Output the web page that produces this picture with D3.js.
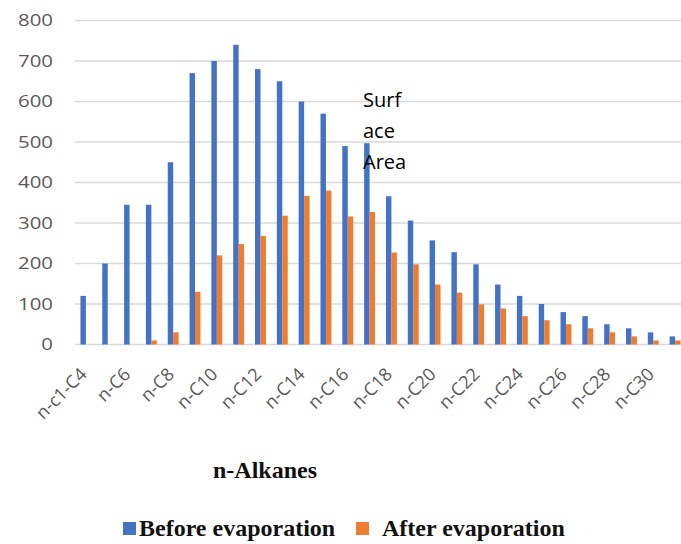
<!DOCTYPE html>
<html>
<head>
<meta charset="utf-8">
<script src="https://cdn.jsdelivr.net/npm/d3@7/dist/d3.min.js"></script>
<style>
  html, body { margin: 0; padding: 0; background: #ffffff; }
  svg { display: block; }
</style>
</head>
<body>
<script>
// n-alkane carbon fractions
const categories = ["n-c1-C4", "n-C5", "n-C6", "n-C7", "n-C8", "n-C9", "n-C10", "n-C11", "n-C12",
  "n-C13", "n-C14", "n-C15", "n-C16", "n-C17", "n-C18", "n-C19", "n-C20", "n-C21", "n-C22",
  "n-C23", "n-C24", "n-C25", "n-C26", "n-C27", "n-C28", "n-C29", "n-C30", "n-C31"];

// Series values
const beforeEvaporation = [120, 200, 345, 345, 450, 670, 700, 740, 680, 650, 600, 570, 490, 497,
  366, 306, 257, 228, 198, 148, 120, 100, 80, 70, 50, 40, 30, 20];
const afterEvaporation = [0, 0, 0, 10, 30, 130, 220, 248, 268, 318, 367, 380, 316, 327,
  227, 198, 148, 128, 99, 89, 70, 60, 50, 40, 30, 20, 10, 10];

const seriesNames = ["Before evaporation", "After evaporation"];
const yTicks = [0, 100, 200, 300, 400, 500, 600, 700, 800];
const annotationLines = ["Surf", "ace", "Area"];
const axisTitle = "n-Alkanes";

const colors = { "Before evaporation": "#4472C4", "After evaporation": "#ED7D31" };

const W = 681, H = 544;
const plot = { left: 75, right: 686, top: 20.5, bottom: 344.5 };

const svg = d3.select("body").append("svg")
  .attr("width", W).attr("height", H);

const rows = categories.map((c, i) => ({
  category: c,
  "Before evaporation": beforeEvaporation[i],
  "After evaporation": afterEvaporation[i]
}));

const x = d3.scaleBand()
  .domain(categories)
  .range([plot.left, plot.right])
  .paddingInner(0.5)
  .paddingOuter(0.25);

const xs = d3.scaleBand()
  .domain(seriesNames)
  .range([0, x.bandwidth()]);

const y = d3.scaleLinear()
  .domain([0, 800])
  .range([plot.bottom, plot.top]);

// Horizontal gridlines
svg.append("g")
  .selectAll("line")
  .data(yTicks)
  .join("line")
  .attr("x1", plot.left).attr("x2", plot.right)
  .attr("y1", d => y(d)).attr("y2", d => y(d))
  .attr("stroke", "#d9d9d9")
  .attr("stroke-width", 1.5);

// Y axis labels
const yAxis = svg.append("g")
  .attr("transform", `translate(${plot.left},0)`)
  .call(d3.axisLeft(y).tickValues(yTicks).tickSize(0).tickPadding(22));
yAxis.select(".domain").remove();
yAxis.selectAll("text")
  .attr("font-family", "'Open Sans', sans-serif")
  .attr("font-size", 17)
  .attr("fill", "#595959")
  .attr("transform", function () {
    const t = d3.select(this);
    const xx = +t.attr("x");
    return `translate(${xx},0) scale(1.2,1) translate(${-xx},0)`;
  });

// Bars
svg.append("g")
  .selectAll("g")
  .data(rows)
  .join("g")
  .attr("transform", d => `translate(${x(d.category)},0)`)
  .selectAll("rect")
  .data(d => seriesNames.map(k => ({ key: k, value: d[k] })))
  .join("rect")
  .attr("x", d => xs(d.key))
  .attr("width", xs.bandwidth())
  .attr("y", d => y(d.value))
  .attr("height", d => y(0) - y(d.value))
  .attr("fill", d => colors[d.key]);

// X axis category labels (every other one)
const xAxis = svg.append("g")
  .attr("transform", `translate(0,${plot.bottom})`)
  .call(d3.axisBottom(x)
    .tickValues(categories.filter((c, i) => i % 2 === 0))
    .tickSize(0));
xAxis.select(".domain").remove();
xAxis.selectAll("text")
  .attr("font-family", "'Open Sans', sans-serif")
  .attr("font-size", 18)
  .attr("fill", "#595959")
  .attr("text-anchor", "end")
  .attr("x", 0).attr("y", 0).attr("dy", 0)
  .attr("transform", "translate(2,31) rotate(-45)");

// Annotation text
svg.append("text")
  .attr("x", 363)
  .attr("y", 107)
  .attr("font-family", "'Open Sans', sans-serif")
  .attr("font-size", 20)
  .attr("fill", "#000")
  .selectAll("tspan")
  .data(annotationLines)
  .join("tspan")
  .attr("x", 363)
  .attr("dy", (d, i) => i === 0 ? 0 : 31)
  .text(d => d);

// Axis title
svg.append("text")
  .attr("x", 265)
  .attr("y", 478)
  .attr("text-anchor", "middle")
  .attr("font-family", "'Liberation Serif', 'Times New Roman', serif")
  .attr("font-weight", "bold")
  .attr("font-size", 24)
  .attr("fill", "#111")
  .text(axisTitle);

// Legend
const legendItems = [
  { name: seriesNames[0], sx: 123, tx: 139 },
  { name: seriesNames[1], sx: 356, tx: 382 }
];
const legend = svg.append("g");
legend.selectAll("rect")
  .data(legendItems)
  .join("rect")
  .attr("x", d => d.sx).attr("y", 522)
  .attr("width", 13).attr("height", 13)
  .attr("fill", d => colors[d.name]);
legend.selectAll("text")
  .data(legendItems)
  .join("text")
  .attr("x", d => d.tx).attr("y", 536)
  .attr("font-family", "'Liberation Serif', 'Times New Roman', serif")
  .attr("font-weight", "bold")
  .attr("font-size", 24)
  .attr("fill", "#111")
  .text(d => d.name);
</script>
</body>
</html>
